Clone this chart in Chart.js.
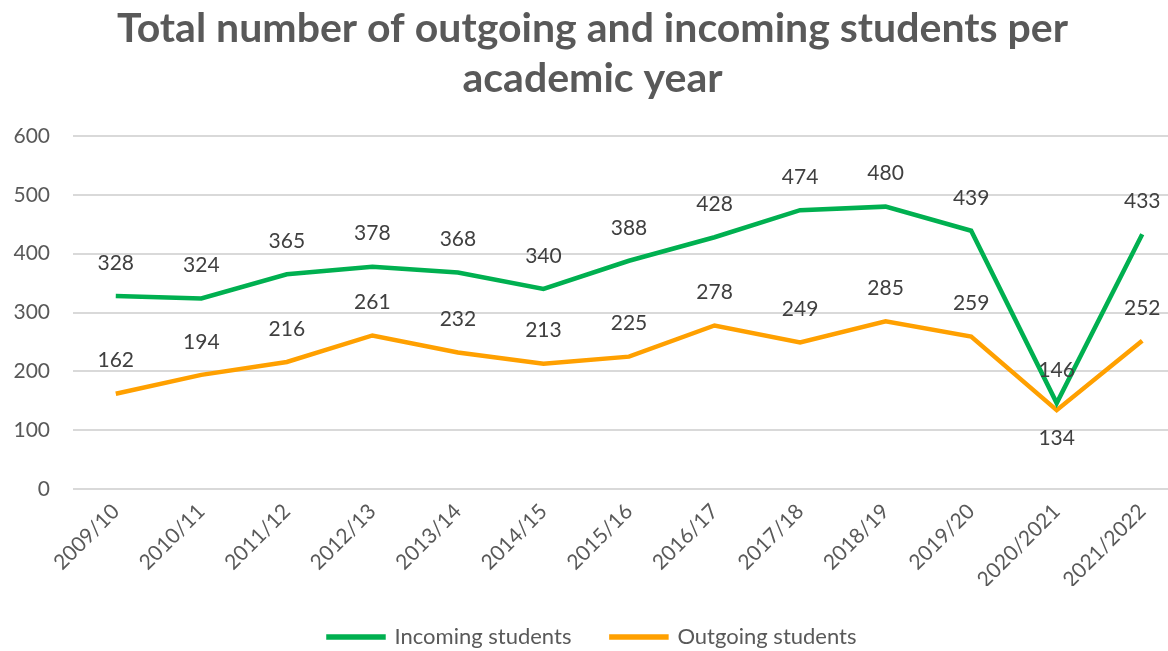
<!DOCTYPE html>
<html>
<head>
<meta charset="utf-8">
<script src="https://cdn.jsdelivr.net/npm/chart.js@4/dist/chart.umd.min.js"></script>
<style>
  html, body { margin: 0; padding: 0; background: #fff; overflow: hidden; }
  #wrap { width: 1185px; height: 658px; }
</style>
</head>
<body>
<div id="wrap"><canvas id="studentsChart"></canvas></div>
<script>
const years = ['2009/10', '2010/11', '2011/12', '2012/13', '2013/14', '2014/15', '2015/16',
    '2016/17', '2017/18', '2018/19', '2019/20', '2020/2021', '2021/2022'];
const incoming = [328, 324, 365, 378, 368, 340, 388, 428, 474, 480, 439, 146, 433];
const outgoing = [162, 194, 216, 261, 232, 213, 225, 278, 249, 285, 259, 134, 252];
// which labels sit under the point instead of above
const outgoingBelow = [false, false, false, false, false, false, false, false, false, false, false, true, false];

const fontName = 'Lato, "Open Sans", sans-serif';

// simple value labels, no datalabels plugin offline
const valueLabels = {
    id: 'valueLabels',
    afterDatasetsDraw(chart) {
        const ctx = chart.ctx;
        ctx.save();
        ctx.font = '21px ' + fontName;
        ctx.fillStyle = '#404040';
        ctx.textAlign = 'center';
        ctx.textBaseline = 'middle';
        chart.data.datasets.forEach((ds, i) => {
            const meta = chart.getDatasetMeta(i);
            meta.data.forEach((pt, j) => {
                const below = i === 1 && outgoingBelow[j];
                ctx.fillText(ds.data[j], pt.x, below ? pt.y + 28 : pt.y - 33);
            });
        });
        ctx.restore();
    }
};

const ctx = document.getElementById('studentsChart');
new Chart(ctx, {
    type: 'line',
    data: {
        labels: years,
        datasets: [{
            label: 'Incoming students',
            data: incoming,
            borderColor: '#00B050',
            backgroundColor: '#00B050',
            borderWidth: 4.5,
            pointRadius: 0,
            tension: 0
        }, {
            label: 'Outgoing students',
            data: outgoing,
            borderColor: '#FFA000',
            backgroundColor: '#FFA000',
            borderWidth: 4.5,
            pointRadius: 0,
            tension: 0
        }]
    },
    options: {
        responsive: true,
        maintainAspectRatio: false,
        animation: false,
        layout: { padding: { left: 0, right: 0, top: 4, bottom: 0 } },
        plugins: {
            title: {
                display: true,
                text: ['Total number of outgoing and incoming students per', 'academic year'],
                color: '#595959',
                font: { family: fontName, size: 41, weight: 'bold', lineHeight: 1.22 },
                padding: { top: 0, bottom: 32 }
            },
            legend: {
                position: 'bottom',
                labels: {
                    color: '#595959',
                    font: { family: fontName, size: 22 },
                    boxWidth: 55,
                    boxHeight: 1,
                    padding: 40
                }
            },
            tooltip: { enabled: false }
        },
        scales: {
            x: {
                offset: true,
                grid: { display: false },
                border: { display: false },
                afterFit(scale) {
                    scale.paddingLeft = 0;
                    scale.paddingRight = 0;
                    scale.height = 97;
                },
                ticks: {
                    autoSkip: false,
                    color: '#595959',
                    font: { family: fontName, size: 21 },
                    maxRotation: 45,
                    minRotation: 45,
                    padding: 2
                }
            },
            y: {
                min: 0,
                max: 600,
                afterFit(scale) {
                    scale.width = 73;
                },
                grid: { color: '#D9D9D9', lineWidth: 2, drawTicks: false },
                border: { display: false },
                ticks: {
                    stepSize: 100,
                    color: '#595959',
                    font: { family: fontName, size: 21 },
                    padding: 23
                }
            }
        }
    },
    plugins: [valueLabels]
});
</script>
</body>
</html>
